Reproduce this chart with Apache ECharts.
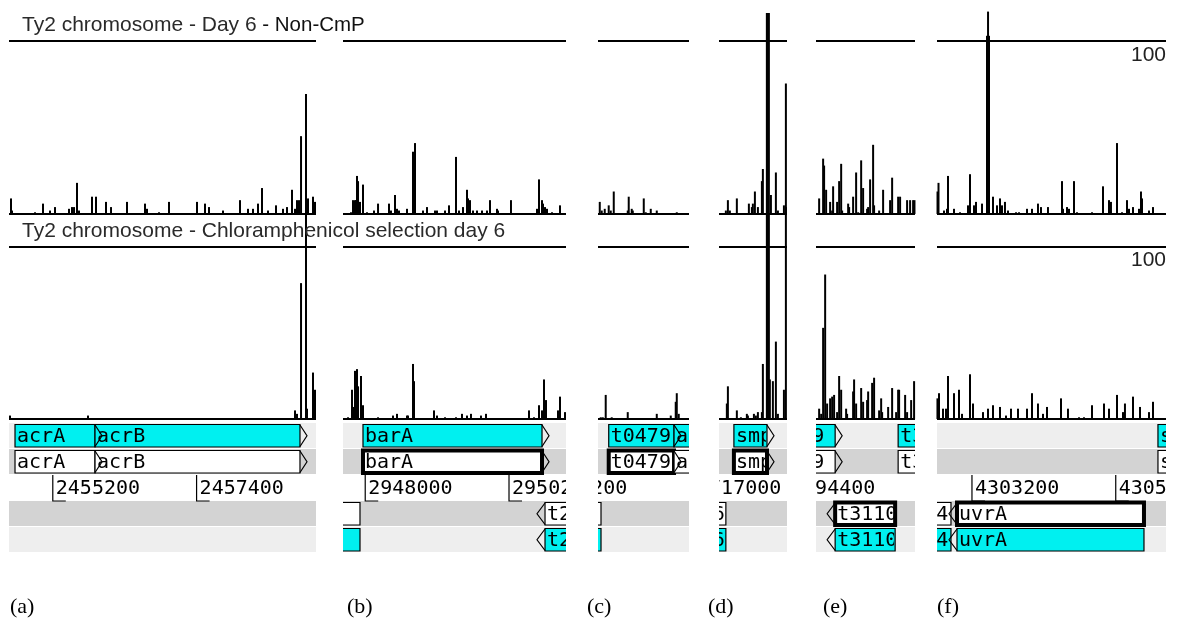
<!DOCTYPE html>
<html>
<head>
<meta charset="utf-8">
<script src="https://cdn.jsdelivr.net/npm/echarts@6/dist/echarts.min.js"></script>
<style>
  html, body { margin: 0; padding: 0; background: #fff; }
  #chart { width: 1177px; height: 626px; }
</style>
</head>
<body>
<div id="chart"></div>
<script>
// ---- Transposon insertion counts, Ty2 chromosome, day 6 ----
// Each entry: [genome position (bp), reads]
const nonCmpA = [[2454561,9],[2454576,2],[2454928,1],[2455050,6],[2455157,2],[2455234,4],[2455448,3],[2455494,4],[2455525,4],[2455570,18],[2455601,2],[2455800,10],[2455861,10],[2456014,7],[2456091,4],[2456335,7],[2456611,6],[2456641,3],[2456825,1],[2456978,7],[2457406,7],[2457529,6],[2457590,4],[2457804,2],[2458064,8],[2458187,3],[2458263,3],[2458340,6],[2458401,15],[2458493,2],[2458615,5],[2458722,3],[2458783,4],[2458860,14],[2458906,3],[2458936,8],[2458967,8],[2458998,45],[2459074,8],[2459105,9],[2459181,10],[2459212,7]];
const cmpA = [[2454545,2],[2455739,2],[2458906,5],[2458936,3],[2458998,79],[2459074,189],[2459089,6],[2459181,27],[2459212,17]];

const nonCmpB = [[2947782,1],[2947813,8],[2947844,8],[2947859,8],[2947874,22],[2947890,19],[2947920,7],[2947966,17],[2948027,1],[2948134,2],[2948196,6],[2948364,6],[2948394,2],[2948456,11],[2948486,3],[2948517,2],[2948639,3],[2948731,36],[2948762,41],[2948884,2],[2948945,4],[2949068,2],[2949098,2],[2949221,2],[2949282,5],[2949389,33],[2949435,2],[2949496,4],[2949557,14],[2949573,9],[2949603,8],[2949649,2],[2949710,2],[2949787,2],[2949863,2],[2949909,8],[2950016,3],[2950032,2],[2950230,8],[2950628,3],[2950659,20],[2950705,8],[2950720,6],[2950751,4],[2950781,3],[2950858,1],[2950980,5]];
const cmpB = [[2947737,1],[2947798,17],[2947813,7],[2947844,28],[2947874,29],[2947890,19],[2947935,25],[2947966,8],[2948196,1],[2948425,2],[2948486,3],[2948639,2],[2948655,2],[2948731,32],[2948746,22],[2949052,5],[2949098,2],[2949221,1],[2949389,1],[2949481,3],[2949557,2],[2949618,3],[2949771,2],[2949848,3],[2950506,5],[2950582,1],[2950659,8],[2950705,5],[2950735,23],[2950766,11],[2950950,5],[2950980,13],[2951057,4]];

const nonCmpC = [[508931,7],[508961,2],[509007,3],[509068,5],[509099,2],[509145,13],[509359,2],[509374,10],[509420,3],[509436,2],[509604,9],[509634,1],[509711,3],[509803,2],[510109,1]];
const cmpC = [[508946,1],[508977,1],[509022,14],[509114,1],[509359,4],[509803,3],[510017,2],[510093,10],[510109,15],[510139,3]];

const nonCmpD = [[2717487,2],[2717518,8],[2717548,2],[2717655,9],[2717839,6],[2717885,4],[2717900,6],[2717931,13],[2717977,4],[2718038,19],[2718053,26],[2718130,11],[2718176,11],[2718252,24],[2718283,2],[2718375,5],[2718405,4]];
const cmpD = [[2717502,9],[2717518,19],[2717655,5],[2717717,1],[2717808,3],[2717824,2],[2717916,3],[2717946,2],[2717977,4],[2718038,4],[2718053,32],[2718114,236],[2718130,236],[2718145,236],[2718160,23],[2718206,22],[2718252,45],[2718283,3],[2718375,17],[2718405,195]];

const nonCmpE = [[3194876,9],[3194937,32],[3194952,28],[3194983,14],[3195044,7],[3195075,2],[3195090,16],[3195151,7],[3195182,19],[3195213,29],[3195228,2],[3195320,6],[3195335,4],[3195396,10],[3195442,24],[3195473,1],[3195519,31],[3195549,15],[3195610,3],[3195626,4],[3195656,20],[3195702,40],[3195717,5],[3195794,2],[3195855,14],[3195962,8],[3195993,21],[3196085,10],[3196115,10],[3196222,8],[3196268,8],[3196314,8],[3196335,8]];
const cmpE = [[3194876,6],[3194907,3],[3194937,53],[3194968,84],[3194998,9],[3195044,12],[3195075,13],[3195105,14],[3195151,4],[3195182,25],[3195213,17],[3195289,6],[3195304,3],[3195396,16],[3195411,23],[3195442,9],[3195519,18],[3195549,10],[3195610,11],[3195626,16],[3195687,21],[3195717,24],[3195794,5],[3195825,12],[3195840,4],[3195932,7],[3195993,18],[3196054,4],[3196085,17],[3196100,17],[3196192,14],[3196222,4],[3196284,11],[3196329,22]];

const nonCmpF = [[4302673,13],[4302688,18],[4302772,2],[4302818,3],[4302833,22],[4302925,3],[4303017,1],[4303139,5],[4303170,23],[4303231,5],[4303262,7],[4303354,6],[4303430,103],[4303461,103],[4303446,117],[4303522,10],[4303583,5],[4303629,9],[4303660,5],[4303705,7],[4303751,2],[4303874,1],[4303920,1],[4304042,3],[4304119,3],[4304210,6],[4304256,4],[4304363,4],[4304578,19],[4304593,3],[4304654,4],[4304685,3],[4304761,19],[4304807,1],[4305037,1],[4305205,16],[4305297,8],[4305327,7],[4305419,41],[4305496,1],[4305572,8],[4305603,3],[4305664,4],[4305756,3],[4305786,13],[4305802,9],[4305909,2],[4305970,4]];
const cmpF = [[4302672,12],[4302696,15],[4302757,6],[4302803,6],[4302833,25],[4302925,15],[4303002,17],[4303048,3],[4303170,26],[4303216,9],[4303369,4],[4303445,6],[4303522,8],[4303629,7],[4303721,2],[4303797,6],[4303904,6],[4304042,6],[4304119,15],[4304210,9],[4304287,3],[4304348,7],[4304562,12],[4304669,6],[4304838,1],[4304914,1],[4305037,8],[4305220,9],[4305297,6],[4305419,14],[4305511,4],[4305541,9],[4305664,13],[4305771,7],[4305909,4],[4305970,10]];

// ---- Annotated genes (strand 1 = forward, -1 = reverse) ----
const genesA = [
  { name: 'acrA', start: 2454622, end: 2455846, strand: 1 },
  { name: 'acrB', start: 2455846, end: 2458982, strand: 1 }
];
const genesB = [
  { name: 't2866', start: 2946000, end: 2947920, strand: -1 },
  { name: 'barA', start: 2947966, end: 2950705, strand: 1, selected: true },
  { name: 't2870', start: 2950751, end: 2952200, strand: -1 }
];
const genesC = [
  { name: 't0478', start: 507800, end: 508950, strand: -1 },
  { name: 't0479', start: 509068, end: 510067, strand: 1, selected: true },
  { name: 'aroM', start: 510067, end: 511000, strand: 1 }
];
const genesD = [
  { name: 't2626', start: 2716520, end: 2717487, strand: -1 },
  { name: 'smpB', start: 2717610, end: 2718116, strand: 1, selected: true }
];
const genesE = [
  { name: 't3109', start: 3194004, end: 3195121, strand: 1 },
  { name: 't3110', start: 3195121, end: 3196039, strand: -1, selected: true },
  { name: 't3111', start: 3196085, end: 3197500, strand: 1 }
];
const genesF = [
  { name: 't4174', start: 4301885, end: 4302879, strand: -1 },
  { name: 'uvrA', start: 4302971, end: 4305832, strand: -1, selected: true },
  { name: 'ssb', start: 4306046, end: 4306600, strand: 1 }
];

// ---- Coordinate ruler ticks ----
const rulerA = [2455200, 2457400];
const rulerB = [2948000, 2950200];
const rulerC = [508200];
const rulerD = [2717000];
const rulerE = [3194400];
const rulerF = [4303200, 4305400];

// ---- Viewed windows ----
const panelLabels = ['(a)', '(b)', '(c)', '(d)', '(e)', '(f)'];
const windowFrom = [2454530, 2947660, 508904, 2717382, 3194828, 4302665];
const windowTo   = [2459227, 2951072, 510296, 2718422, 3196343, 4306169];

const panels = [
  { nonCmp: nonCmpA, cmp: cmpA, genes: genesA, ruler: rulerA },
  { nonCmp: nonCmpB, cmp: cmpB, genes: genesB, ruler: rulerB },
  { nonCmp: nonCmpC, cmp: cmpC, genes: genesC, ruler: rulerC },
  { nonCmp: nonCmpD, cmp: cmpD, genes: genesD, ruler: rulerD },
  { nonCmp: nonCmpE, cmp: cmpE, genes: genesE, ruler: rulerE },
  { nonCmp: nonCmpF, cmp: cmpF, genes: genesF, ruler: rulerF }
];

// ---- Layout ----
const panelLeft  = [9, 343, 598, 719, 816, 937];
const panelWidth = [307, 223, 91, 68, 99, 229];
const labelLeft  = [10, 347, 587, 708, 823, 937];
const TRACK_TOP = { top: 41, height: 173 };
const TRACK_BOT = { top: 247, height: 172 };
const GENE_TRACK = { top: 423, height: 130 };

const CYAN = '#00f0f0';
const ROW_BG = ['#eeeeee', '#d3d3d3', null, '#d3d3d3', '#eeeeee'];
const MONO = '20px "DejaVu Sans Mono", "Liberation Mono", monospace';

const grid = [], xAxis = [], yAxis = [], series = [];

panels.forEach((p, i) => {
  const base = i * 3;
  [TRACK_TOP, TRACK_BOT, GENE_TRACK].forEach(g => {
    grid.push({ left: panelLeft[i], width: panelWidth[i], top: g.top, height: g.height });
  });
  for (let k = 0; k < 3; k++) {
    xAxis.push({ type: 'value', gridIndex: base + k, min: windowFrom[i], max: windowTo[i], show: false });
  }
  for (let k = 0; k < 2; k++) {
    yAxis.push({
      type: 'value', gridIndex: base + k, min: 0, max: 100, interval: 100,
      axisLine: { show: false }, axisTick: { show: false }, axisLabel: { show: false },
      splitLine: { show: true, lineStyle: { color: '#000', width: 2 } }
    });
  }
  yAxis.push({ type: 'value', gridIndex: base + 2, min: 0, max: 5, inverse: true, show: false });

  // read-count tracks
  [p.nonCmp, p.cmp].forEach((d, k) => {
    series.push({
      type: 'bar', xAxisIndex: base + k, yAxisIndex: base + k,
      data: d, barWidth: 2, clip: false, silent: true,
      itemStyle: { color: '#000' }, z: 3
    });
  });

  const from = windowFrom[i], to = windowTo[i];
  const geneAxis = { xAxisIndex: base + 2, yAxisIndex: base + 2, coordinateSystem: 'cartesian2d' };

  // row backgrounds of the feature display
  series.push(Object.assign({
    type: 'custom', clip: true, silent: true, z: 1,
    data: [0, 1, 3, 4].map(r => [from, to, r]),
    encode: { x: [0, 1], y: 2 },
    renderItem: (params, api) => {
      const r = api.value(2);
      const a = api.coord([api.value(0), r]);
      const b = api.coord([api.value(1), r + 1]);
      return { type: 'rect', shape: { x: a[0], y: a[1], width: b[0] - a[0], height: b[1] - a[1] - 1 },
               style: { fill: ROW_BG[r] } };
    }
  }, geneAxis));

  // gene boxes and names (names are cut at the box edge)
  const geneBox = (g, row, api, fill, thick) => {
    const a = api.coord([g.start, row]);
    const b = api.coord([g.end, row + 1]);
    const y0 = a[1] + 1.5, y1 = b[1] - 2;
    const lw = thick ? 4 : 1.2;
    const w = b[0] - a[0];
    return [
      { type: 'rect', shape: { x: a[0], y: y0, width: w, height: y1 - y0 },
        style: { fill: fill, stroke: '#000', lineWidth: lw } },
      { type: 'text', style: { text: g.name, x: a[0] + 2, y: (y0 + y1) / 2 + 1, font: MONO, fill: '#000',
          align: 'left', verticalAlign: 'middle' },
        clipPath: { type: 'rect', shape: { x: a[0], y: y0, width: Math.max(w - 1, 0), height: y1 - y0 } } }
    ];
  };
  series.push(Object.assign({
    type: 'custom', clip: true, silent: true, z: 2,
    data: p.genes.map((g, j) => [g.start, g.end, j]),
    encode: { x: [0, 1], y: 2 },
    renderItem: (params, api) => {
      const g = p.genes[api.value(2)];
      const children = g.strand > 0
        ? geneBox(g, 0, api, CYAN, false).concat(geneBox(g, 1, api, '#fff', !!g.selected))
        : geneBox(g, 3, api, '#fff', !!g.selected).concat(geneBox(g, 4, api, CYAN, false));
      return { type: 'group', children };
    }
  }, geneAxis));

  // direction chevrons
  series.push(Object.assign({
    type: 'custom', clip: true, silent: true, z: 4,
    data: p.genes.map((g, j) => [g.start, g.end, j]),
    encode: { x: [0, 1], y: 2 },
    renderItem: (params, api) => {
      const g = p.genes[api.value(2)];
      const rows = g.strand > 0 ? [0, 1] : [3, 4];
      const children = rows.map(row => {
        const a = api.coord([g.strand > 0 ? g.end : g.start, row]);
        const b = api.coord([g.strand > 0 ? g.end : g.start, row + 1]);
        const y0 = a[1] + 2, y1 = b[1] - 2.5, ym = (y0 + y1) / 2;
        const tip = g.strand > 0 ? a[0] + 7 : a[0] - 8;
        return { type: 'polyline', shape: { points: [[a[0], y0], [tip, ym], [a[0], y1]] },
                 style: { fill: null, stroke: '#000', lineWidth: 1.2 } };
      });
      return { type: 'group', children };
    }
  }, geneAxis));

  // coordinate ruler
  series.push(Object.assign({
    type: 'custom', clip: true, silent: true, z: 3,
    data: p.ruler.map(v => [v, 2]),
    encode: { x: 0, y: 1 },
    renderItem: (params, api) => {
      const v = api.value(0);
      const a = api.coord([v, 2]);
      const b = api.coord([v, 3]);
      return { type: 'group', children: [
        { type: 'polyline', shape: { points: [[a[0], a[1]], [a[0], b[1]], [a[0] + 13, b[1]]] },
          style: { fill: null, stroke: '#000', lineWidth: 1.2 } },
        { type: 'text', style: { text: String(v), x: a[0] + 3, y: (a[1] + b[1]) / 2 + 1, font: MONO,
          fill: '#000', align: 'left', verticalAlign: 'middle' } }
      ] };
    }
  }, geneAxis));
});

// ---- Titles and panel captions ----
const graphic = [
  { type: 'text', x: 22, y: 25.5, silent: true, z: 10, style: {
      text: '{a|Ty2 chromosome - Day 6}{b| - Non-CmP}', verticalAlign: 'middle',
      rich: { a: { font: '21px "Liberation Sans", Arial, sans-serif', fill: '#2a2a2a' },
              b: { font: '20.5px "Liberation Sans", Arial, sans-serif', fill: '#111' } } } },
  { type: 'text', x: 22, y: 231.5, silent: true, z: 10, style: {
      text: 'Ty2 chromosome - Chloramphenicol selection day 6', verticalAlign: 'middle',
      font: '21px "Liberation Sans", Arial, sans-serif', fill: '#2a2a2a' } },
  { type: 'text', x: 1166, y: 55.5, silent: true, z: 10, style: {
      text: '100', align: 'right', verticalAlign: 'middle',
      font: '21px "Liberation Sans", Arial, sans-serif', fill: '#222' } },
  { type: 'text', x: 1166, y: 260, silent: true, z: 10, style: {
      text: '100', align: 'right', verticalAlign: 'middle',
      font: '21px "Liberation Sans", Arial, sans-serif', fill: '#222' } }
];
panelLabels.forEach((t, i) => {
  graphic.push({ type: 'text', x: labelLeft[i], y: 607, silent: true, style: {
    text: t, verticalAlign: 'middle', font: '22px "Liberation Serif", "Times New Roman", serif', fill: '#000' } });
});

const chart = echarts.init(document.getElementById('chart'));
chart.setOption({
  animation: false,
  backgroundColor: '#fff',
  grid, xAxis, yAxis, series, graphic
});
</script>
</body>
</html>
